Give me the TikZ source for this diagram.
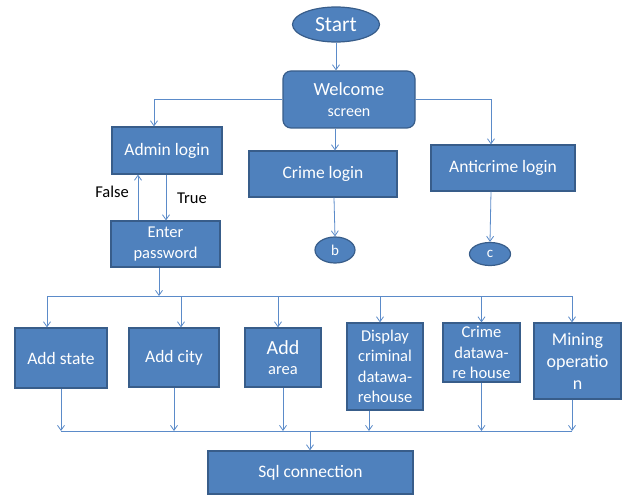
\documentclass[tikz,border=0pt]{standalone}
\usepackage{fontspec}
\setmainfont{Carlito}
\usetikzlibrary{shapes.geometric,arrows.meta}
\definecolor{boxfill}{HTML}{4F81BD}
\definecolor{boxline}{HTML}{385D8A}
\definecolor{conn}{HTML}{5B8BC9}
\tikzset{
  blk/.style={draw=boxline, line width=1.2pt, fill=boxfill, text=white, inner sep=0pt, align=center, font=\fontsize{16.5}{20.5}\selectfont},
  big/.style={font=\fontsize{17.5}{21}\selectfont},
  oval/.style={blk, ellipse},
  line/.style={draw=conn, line width=0.8pt},
  arr/.style={line, -{Straight Barb[length=5pt,width=7pt]}},
  lbl/.style={text=black, inner sep=0pt, font=\fontsize{16.5}{20}\selectfont}
}
\begin{document}
\begin{tikzpicture}[x=1pt,y=-1pt]
\useasboundingbox (0,0) rectangle (622,495);
% nodes
\node[oval, minimum width=87pt, minimum height=35pt, font=\fontsize{21.5}{24}\selectfont] (start) at (336,24.5) {Start};
\node[blk, rounded corners=8pt, minimum width=132pt, minimum height=57pt, font=\fontsize{16}{21}\selectfont] (welcome) at (349,99.5) {{\fontsize{18.5}{21}\selectfont Welcome}\\[0pt]screen};
\node[blk, big, minimum width=110pt, minimum height=47pt] (admin) at (167,150.5) {Admin login};
\node[blk, big, minimum width=148pt, minimum height=46pt] (crime) at (323,174) {Crime login};
\node[blk, big, minimum width=144pt, minimum height=46pt] (anti) at (503,168) {Anticrime login};
\node[blk, minimum width=109pt, minimum height=46pt] (enter) at (165.5,244) {Enter\\password};
\node[oval, minimum width=40pt, minimum height=26pt, font=\fontsize{15}{18}\selectfont] (b) at (335,250) {b};
\node[oval, minimum width=41pt, minimum height=23pt, font=\fontsize{15}{18}\selectfont] (c) at (490,254) {c};
\node[lbl] (false) at (112,192) {False};
\node[lbl] (true) at (192,198) {True};
\node[blk, big, minimum width=92pt, minimum height=60pt] (addstate) at (61,358) {Add state};
\node[blk, big, minimum width=90pt, minimum height=59pt] (addcity) at (174,357.5) {Add city};
\node[blk, minimum width=76pt, minimum height=59pt] (addarea) at (283,357.5) {{\fontsize{20}{22}\selectfont Add}\\[-1pt]area};
\node[blk, minimum width=76pt, minimum height=87pt] (disp) at (385,366.5) {Display\\criminal\\datawa-\\rehouse};
\node[blk, minimum width=77pt, minimum height=59pt] (cdw) at (481.5,352.5) {Crime\\datawa-\\re house};
\node[blk, minimum width=87pt, minimum height=76pt, font=\fontsize{18}{22}\selectfont] (mining) at (577.5,361) {Mining\\operatio\\n};
\node[blk, big, minimum width=205pt, minimum height=43pt] (sql) at (310.5,472.5) {Sql connection};
% coordinates for buses
\coordinate (tl) at (47,296);
\coordinate (tr) at (572,296);
\coordinate (bl) at (61,431);
\coordinate (br) at (572,431);
\coordinate (tp) at (159,296);
\coordinate (bp) at (310,431);
% top connectors
\draw[arr] (start) -- (start |- welcome.north);
\draw[arr] (welcome.west) -| ([xshift=-13pt]admin.north);
\draw[arr] ([xshift=-14pt]welcome.south) -- ([xshift=-14pt]welcome.south |- crime.north);
\draw[arr] (welcome.east) -| ([xshift=-12pt]anti.north);
\draw[arr] ([xshift=-1pt]admin.south) -- ([xshift=-1pt]admin.south |- enter.north);
\draw[arr] ([xshift=-27.5pt]enter.north) -- ([xshift=-27.5pt]enter.north |- admin.south);
\draw[arr] ([xshift=11pt]crime.south) -- (b.north);
\draw[arr] ([xshift=-12pt]anti.south) -- (c.north);
% top bus
\draw[arr] ([xshift=-6.5pt]enter.south) -- (tp);
\draw[line] (tl) -- (tr);
\draw[arr] (tl) -- ([xshift=-14pt]addstate.north);
\draw[arr] ([xshift=7pt]addcity.north |- tl) -- ([xshift=7pt]addcity.north);
\draw[arr] ([xshift=-5pt]addarea.north |- tl) -- ([xshift=-5pt]addarea.north);
\draw[arr] ([xshift=-5pt]disp.north |- tl) -- ([xshift=-5pt]disp.north);
\draw[arr] (cdw.north |- tl) -- (cdw.north);
\draw[arr] (tr) -- (tr |- mining.north);
% bottom bus
\draw[line] (bl) -- (br);
\draw[arr] (addstate.south) -- (bl);
\draw[arr] (addcity.south) -- (addcity.south |- bl);
\draw[arr] (addarea.south) -- (addarea.south |- bl);
\draw[arr] ([xshift=-16pt]disp.south) -- ([xshift=-16pt]disp.south |- bl);
\draw[arr] (cdw.south) -- (cdw.south |- bl);
\draw[arr] (br |- mining.south) -- (br);
\draw[arr] (bp) -- (bp |- sql.north);
\end{tikzpicture}
\end{document}
